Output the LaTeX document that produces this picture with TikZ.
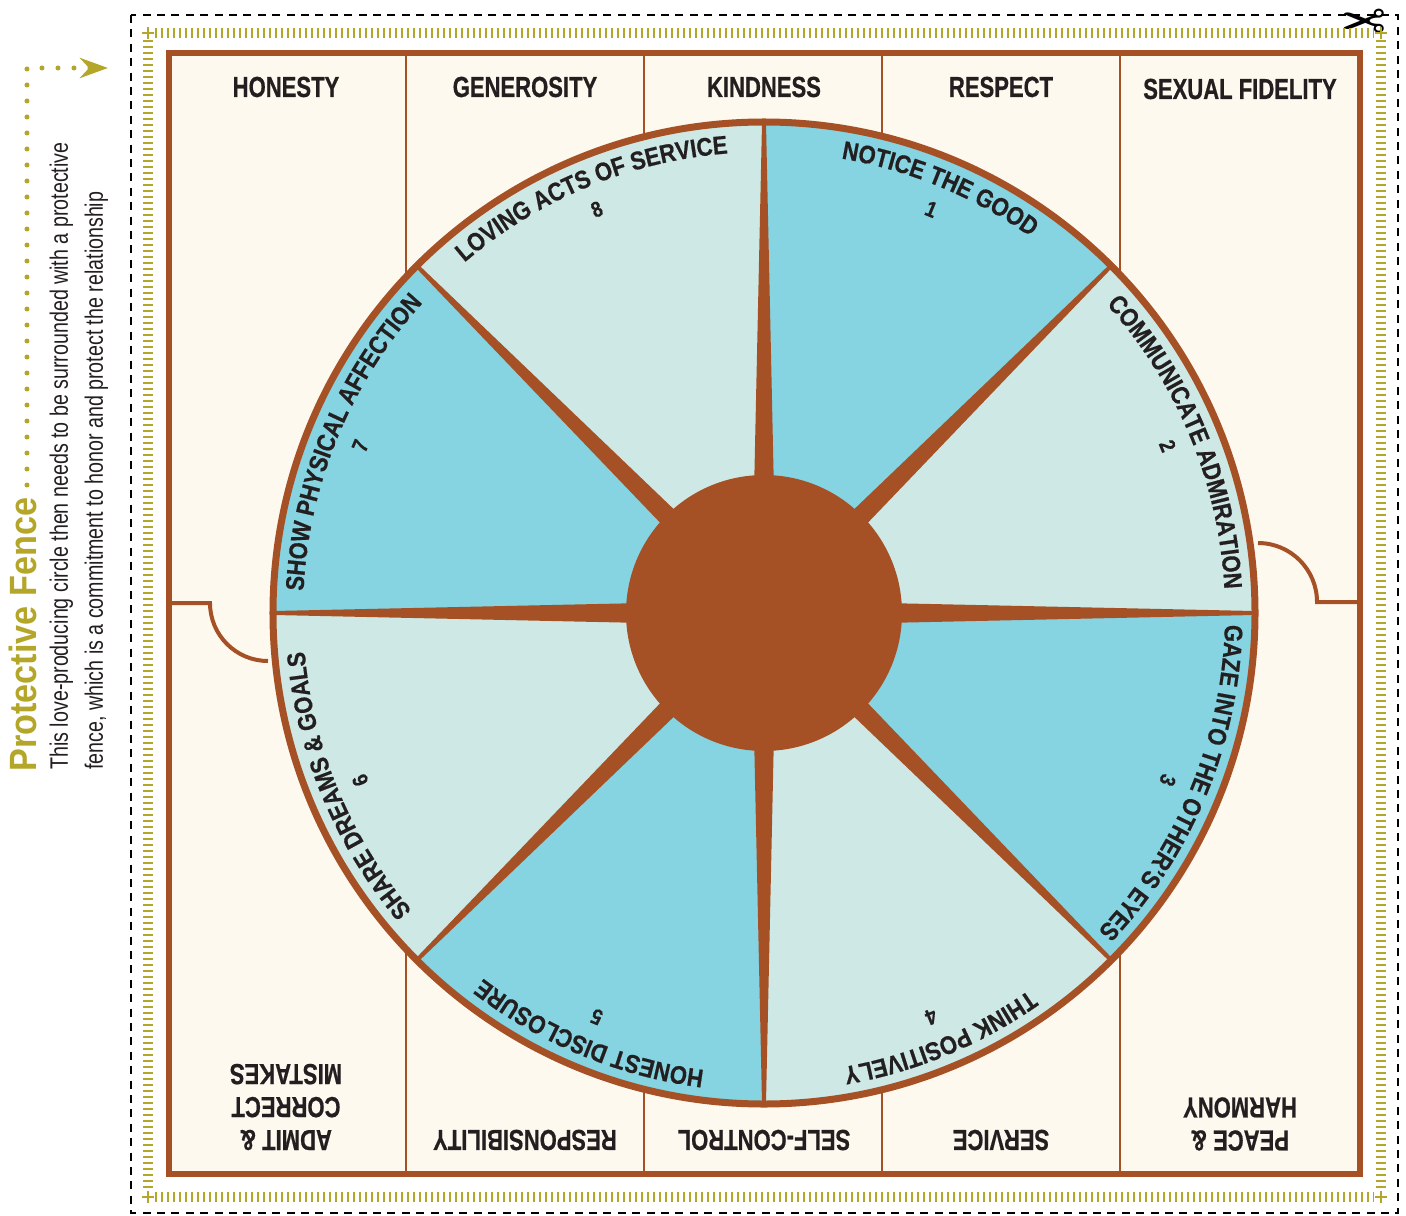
\documentclass[tikz,border=0pt]{standalone}
\usepackage{fontspec}
\usepackage{tikz}
\usetikzlibrary{arrows.meta, decorations.text}

\newfontfamily\capfam[FakeStretch=0.76, FakeBold=0.6]{Liberation Sans}
\newfontfamily\secfam[FakeStretch=0.86, FakeBold=0.6]{Liberation Sans}
\newfontfamily\notefam[FakeStretch=0.78]{Liberation Sans}
\newfontfamily\titlefam[FakeStretch=0.9]{Liberation Sans}
\newfontfamily\symfam{DejaVu Sans}

\newcommand{\capfont}{\capfam\bfseries\fontsize{14.5}{16.5}\selectfont}
\newcommand{\secfont}{\secfam\bfseries\fontsize{12.8}{14}\selectfont}
\newcommand{\numfont}{\secfam\bfseries\fontsize{11}{13}\selectfont}
\newcommand{\notefont}{\notefam\fontsize{12.6}{15}\selectfont}
\newcommand{\titlefont}{\titlefam\bfseries\fontsize{19}{22}\selectfont}

\definecolor{fencebrown}{HTML}{A65125}
\definecolor{skyblue}{HTML}{86D3E1}
\definecolor{mintpale}{HTML}{CEE9E5}
\definecolor{creamfill}{HTML}{FEF9EE}
\definecolor{olivefence}{HTML}{B4A628}
\definecolor{inkdark}{HTML}{231F20}

% curved label inside one sector, centred on angle #1
\newcommand{\sectortext}[2]{%
  \path[decorate, decoration={text along path, text={|\secfont|#2},
      text align={center}, text color=inkdark}]
    ({#1+22.5}:461) arc[start angle={#1+22.5}, end angle={#1-22.5}, radius=461];}

\begin{document}
\begin{tikzpicture}[x=0.5pt, y=0.5pt,
    fenceframe/.style={draw=fencebrown, line width=3pt},
    divider/.style={draw=fencebrown, line width=1.25pt},
    tabline/.style={draw=fencebrown, line width=2pt},
    ruler/.style={draw=olivefence, line width=5pt, dash pattern=on 1.2pt off 1.8pt},
    toplabel/.style={font=\capfont, text=inkdark, inner sep=0pt},
    botlabel/.style={toplabel, rotate=180, align=center},
    numlabel/.style={font=\numfont, text=inkdark, inner sep=0pt},
    note/.style={font=\notefont, text=inkdark, inner sep=0pt, rotate=90, anchor=base west}
]
\useasboundingbox (-764,-602) rectangle (642,613);
\fill[white] (-764,-602) rectangle (642,613);

% cut line
\draw[black, line width=1.3pt, dash pattern=on 4pt off 3.2pt] (-633,598) rectangle (634,-600);
\node[font=\symfam\fontsize{27}{27}\selectfont, rotate=180, inner sep=0pt] (scissors) at (600,596) {✂};

% olive ruler border
\draw[ruler] (-609,580) -- (610,580);
\draw[ruler] (-609,-584) -- (610,-584);
\draw[ruler] (-616,573) -- (-616,-577);
\draw[ruler] (617,573) -- (617,-577);
\foreach \cx/\cy in {-616/580, 617/580, -616/-584, 617/-584}{
    \draw[olivefence, line width=0.8pt] (\cx-6,\cy) -- (\cx+6,\cy) (\cx,\cy-6) -- (\cx,\cy+6);
}

% fence panel
\fill[creamfill] (-595,560) rectangle (596,-561);
\foreach \x in {-358,-120,118,356}{
    \draw[divider] (\x,560) -- (\x,-561);
}
\draw[tabline] (-595,10) -- (-554,10) arc[start angle=180, end angle=270, radius=58];
\draw[tabline] (596,11) -- (553,11) arc[start angle=0, end angle=90, radius=59];
\draw[fenceframe] (-595,560) rectangle (596,-561);

% love circle
\foreach \k in {1,...,8}{
    \pgfmathsetmacro\a{90-45*(\k-1)}
    \pgfmathsetmacro\b{90-45*\k}
    \ifodd\k \def\tint{skyblue}\else \def\tint{mintpale}\fi
    \fill[\tint] (0,0) -- (\a:491) arc[start angle=\a, end angle=\b, radius=491] -- cycle;
}
\foreach \ang in {0,45,...,315}{
    \fill[fencebrown, rotate=\ang] (120,-10) -- (490,-2) -- (490,2) -- (120,10) -- cycle;
}
\node[circle, fill=fencebrown, minimum size=138pt, inner sep=0pt] (hub) at (0,0) {};
\draw[fencebrown, line width=3.5pt] (0,0) circle[radius=491];

% sector labels
\sectortext{67.5}{NOTICE THE GOOD}
\sectortext{22.5}{COMMUNICATE ADMIRATION}
\sectortext{-22.5}{GAZE INTO THE OTHER’S EYES}
\sectortext{-67.5}{THINK POSITIVELY}
\sectortext{-112.5}{HONEST DISCLOSURE}
\sectortext{-157.5}{SHARE DREAMS {\&} GOALS}
\sectortext{157.5}{SHOW PHYSICAL AFFECTION}
\sectortext{112.5}{LOVING ACTS OF SERVICE}
\foreach \k in {1,...,8}{
    \node[numlabel, rotate={22.5-45*\k}] (num\k) at ({112.5-45*\k}:437) {\k};
}

% fence values
\foreach \x/\y/\name/\txt in {-478/526/honesty/HONESTY, -239/526/generosity/GENEROSITY,
        0/526/kindness/KINDNESS, 237/526/respect/RESPECT, 476/524/fidelity/SEXUAL FIDELITY}{
    \node[toplabel] (\name) at (\x,\y) {\txt};
}
\node[botlabel] (admit) at (-478,-494) {ADMIT \&\\CORRECT\\MISTAKES};
\node[botlabel] (responsibility) at (-239,-527) {RESPONSIBILITY};
\node[botlabel] (selfcontrol) at (0,-527) {SELF-CONTROL};
\node[botlabel] (service) at (237,-527) {SERVICE};
\node[botlabel] (peace) at (476,-511) {PEACE \&\\HARMONY};

% side note
\node[note, font=\titlefont, text=olivefence] (fencetitle) at (-727,-159) {Protective Fence};
\node[note] (fenceline1) at (-696,-157) {This love-producing circle then needs to be surrounded with a protective};
\node[note] (fenceline2) at (-661,-157) {fence, which is a commitment to honor and protect the relationship};
\coordinate (dotstart) at (-737,128);
\coordinate (dottip) at (-656,545);
\draw[olivefence, line width=2.5pt, line cap=round, dash pattern=on 0pt off 8pt,
    -{Stealth[length=14pt, width=10pt]}] (dotstart) |- (dottip);
\end{tikzpicture}
\end{document}
